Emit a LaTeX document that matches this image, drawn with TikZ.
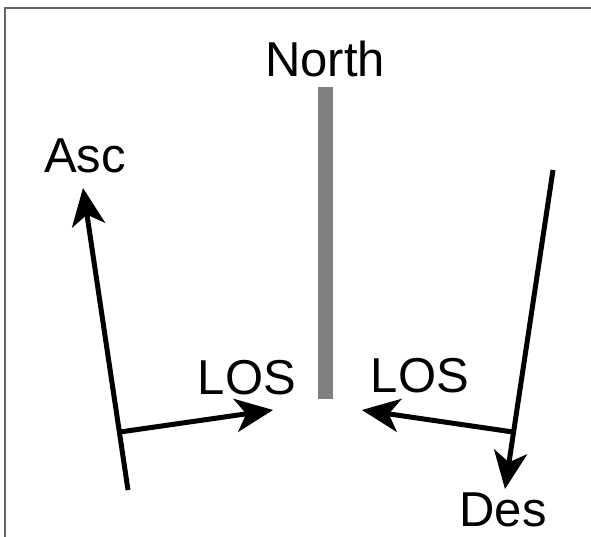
\documentclass[tikz,border=0pt]{standalone}
\usepackage{fontspec}
\setmainfont{Liberation Sans}
\usetikzlibrary{calc}
\newcommand\myvec[2]{%
  \coordinate (B#2) at ($(#2)!38pt!(#1)$);
  \coordinate (N#2) at ($(#2)!27pt!(#1)$);
  \coordinate (L#2) at ($(B#2)!17pt!90:(#2)$);
  \coordinate (R#2) at ($(B#2)!17pt!-90:(#2)$);
  \draw[shaft] (#1) -- (N#2);
  \fill[black] (#2) -- (L#2) -- (N#2) -- (R#2) -- cycle;}
\begin{document}
\begin{tikzpicture}[x=1pt,y=1pt,
  lbl/.style={anchor=base,inner sep=0pt,font=\fontsize{49}{49}\selectfont},
  shaft/.style={line width=5pt},
  frame/.style={draw=black!60,line width=2.5pt}]
\useasboundingbox (0,0) rectangle (591,537);
\draw[frame] (5,0) -- (5,529) -- (591,529);
\node[fill=black!50,minimum width=15pt,minimum height=312pt,inner sep=0pt,anchor=north] (bar) at (325.5,450) {};
\node[lbl] (north) at (325,460) {North};
\node[lbl] (asc) at (85,364) {Asc};
\node[lbl] (losl) at (247,142) {LOS};
\node[lbl] (losr) at (420,144) {LOS};
\node[lbl] (des) at (503,10) {Des};
\coordinate (ascTail) at (128,47);
\coordinate (ascTip) at (83,349);
\coordinate (ascJ) at (120,105);
\coordinate (losLTip) at (273,127);
\coordinate (desTop) at (553,367);
\coordinate (desTip) at (505,48);
\coordinate (desJ) at (513,105);
\coordinate (losRTip) at (362,127);
\myvec{ascTail}{ascTip}
\myvec{ascJ}{losLTip}
\myvec{desTop}{desTip}
\myvec{desJ}{losRTip}
\end{tikzpicture}
\end{document}
